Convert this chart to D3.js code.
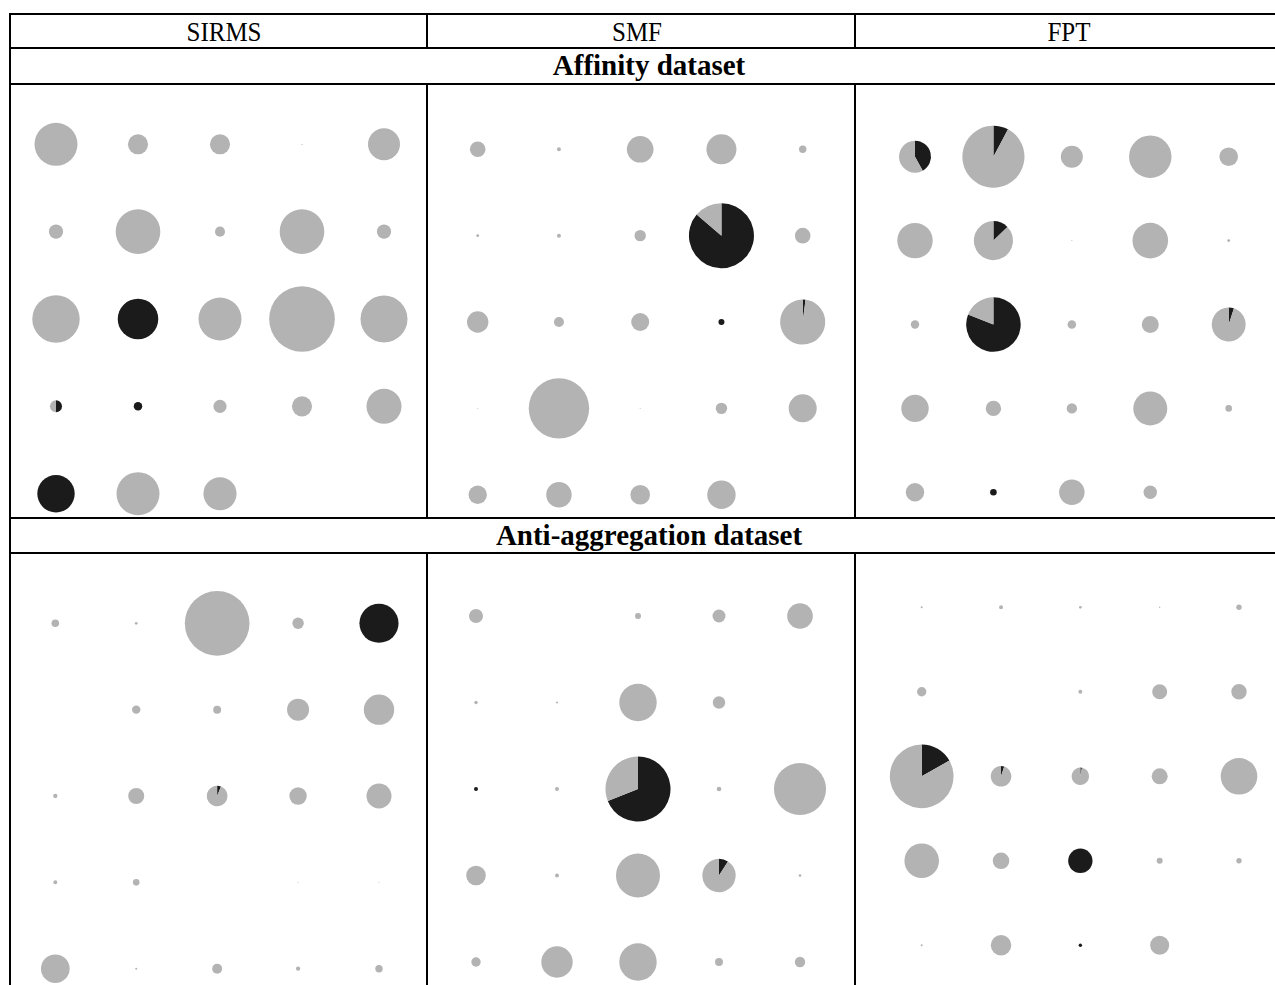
<!DOCTYPE html>
<html>
<head>
<meta charset="utf-8">
<script src="https://cdn.jsdelivr.net/npm/d3@7"></script>
<style>
  html, body { margin: 0; padding: 0; background: #fff; }
  svg { display: block; }
</style>
</head>
<body>
<svg id="chart" width="1275" height="985"></svg>
<script>
// ---------------- DATA ----------------
const columns = ["SIRMS", "SMF", "FPT"];
const datasets = ["Affinity dataset", "Anti-aggregation dataset"];

// Node sizes (number of compounds per SOM node, 5x5 grid, row-major) and share of actives (black)
const affSirmsSize   = [12.8, 2.8, 2.8, 0.01, 7.1,  1.4, 13.8, 0.7, 13.8, 1.4,  15.6, 11.4, 12.8, 29.9, 15.3,  1.0, 0.5, 1.2, 2.8, 8.5,  9.7, 12.8, 7.6, 0, 0];
const affSirmsActive = [0, 0, 0, 0, 0,  0, 0, 0, 0, 0,  0, 1, 0, 0, 0,  0.5, 1, 0, 0, 0,  1, 0, 0, 0, 0];

const affSmfSize   = [1.69, 0.11, 4.91, 6.25, 0.38,  0.06, 0.11, 0.9, 29.3, 1.69,  3.18, 0.69, 2.25, 0.25, 14.06,  0.007, 25.3, 0.007, 0.9, 5.44,  2.35, 4.48, 2.67, 5.6, 0];
const affSmfActive = [0, 0, 0, 0, 0,  0, 0, 0, 0.862, 0,  0, 0, 0, 1, 0.02,  0, 0, 0, 0, 0,  0, 0, 0, 0, 0];

const affFptSize   = [7.1, 26.7, 3.36, 12.5, 2.4,  8.7, 10.6, 0.007, 8.8, 0.06,  0.49, 20.6, 0.51, 2.0, 8.0,  5.2, 1.65, 0.75, 8.0, 0.3,  2.35, 0.3, 4.48, 1.25, 0];
const affFptActive = [0.42, 0.078, 0, 0, 0,  0, 0.127, 0, 0, 0,  0, 0.81, 0, 0, 0.05,  0, 0, 0, 0, 0,  0, 1, 0, 0, 0];

const antiSirmsSize   = [0.4, 0.05, 29.0, 0.9, 10.6,  0, 0.49, 0.44, 3.36, 6.4,  0.13, 1.78, 2.95, 2.1, 4.34,  0.11, 0.3, 0, 0.007, 0.007,  5.68, 0.028, 0.69, 0.13, 0.38];
const antiSirmsActive = [0, 0, 0, 0, 1,  0, 0, 0, 0, 0,  0, 0, 0.06, 0, 0,  0, 0, 0, 0, 0,  0, 0, 0, 0, 0];

const antiSmfSize   = [1.36, 0, 0.25, 1.17, 4.55,  0.08, 0.028, 9.7, 1.07, 0,  0.11, 0.11, 29.3, 0.15, 18.8,  2.67, 0.11, 13.4, 7.75, 0.05,  0.61, 6.85, 9.7, 0.44, 0.75];
const antiSmfActive = [0, 0, 0, 0, 0,  0, 0, 0, 0, 0,  1, 0, 0.69, 0, 0,  0, 0, 0, 0.09, 0,  0, 0, 0, 0, 0];

const antiFptSize   = [0.028, 0.11, 0.05, 0.014, 0.2,  0.61, 0, 0.11, 1.56, 1.65,  28.1, 2.95, 2.1, 1.78, 9.3,  8.3, 1.9, 4.13, 0.25, 0.2,  0.028, 2.9, 0.08, 2.5, 0];
const antiFptActive = [0, 0, 0, 0, 0,  0, 0, 0, 0, 0,  0.168, 0.05, 0.03, 0, 0,  0, 0, 1, 0, 0,  0, 0, 1, 0, 0];

// ---------------- LAYOUT ----------------
const W = 1275, H = 985;
const svg = d3.select("#chart");
svg.append("rect").attr("width", W).attr("height", H).attr("fill", "#fff");

const GREY = "#b3b3b3", BLACK = "#1b1b1b";
const rScale = d3.scaleSqrt().domain([0, 30]).range([0, 32.9]);
const idx = d3.range(5);

const panels = [
  {size: affSirmsSize,  active: affSirmsActive,  x: [56, 384],     y: [144.3, 493.7]},
  {size: affSmfSize,    active: affSmfActive,    x: [477.7, 802.7],y: [149.3, 494.7]},
  {size: affFptSize,    active: affFptActive,    x: [915, 1228.7], y: [156.7, 492.3]},
  {size: antiSirmsSize, active: antiSirmsActive, x: [55.3, 379],   y: [623.3, 968.7]},
  {size: antiSmfSize,   active: antiSmfActive,   x: [476, 800],    y: [616, 962]},
  {size: antiFptSize,   active: antiFptActive,   x: [921.7, 1239], y: [607.3, 945.3]}
];

const pie = d3.pie().sort(null).value(d => d);
const arc = d3.arc().innerRadius(0);

panels.forEach(p => {
  const xs = d3.scalePoint().domain(idx).range(p.x);
  const ys = d3.scalePoint().domain(idx).range(p.y);
  const g = svg.append("g");
  p.size.forEach((s, i) => {
    if (!(s > 0)) return;
    const r = rScale(s);
    const a = p.active[i];
    const node = g.append("g")
      .attr("transform", `translate(${xs(i % 5)},${ys(Math.floor(i / 5))})`);
    node.selectAll("path")
      .data(pie([a, 1 - a]))
      .join("path")
      .attr("d", d => arc.outerRadius(r)(d))
      .attr("fill", (d, k) => k === 0 ? BLACK : GREY);
  });
});

// ---------------- TABLE GRID ----------------
const lines = svg.append("g").attr("stroke", "#000").attr("stroke-width", 2);
const hLines = [14, 48, 84, 518, 553];
hLines.forEach(y => lines.append("line").attr("x1", 10).attr("x2", W).attr("y1", y).attr("y2", y));
lines.append("line").attr("x1", 10).attr("x2", 10).attr("y1", 13).attr("y2", H);
[427, 855].forEach(x => {
  [[13, 48], [84, 518], [553, H]].forEach(([a, b]) =>
    lines.append("line").attr("x1", x).attr("x2", x).attr("y1", a).attr("y2", b));
});

// ---------------- TEXT ----------------
const colCenters = [224, 637, 1069];
svg.append("g").selectAll("text").data(columns).join("text")
  .attr("transform", (d, i) => `translate(${colCenters[i]},41) scale(1,1.08)`)
  .attr("text-anchor", "middle")
  .attr("font-family", "'Liberation Serif', 'Times New Roman', serif")
  .attr("font-size", 25)
  .attr("fill", "#000")
  .text(d => d);

const dsY = [75, 545];
svg.append("g").selectAll("text").data(datasets).join("text")
  .attr("transform", (d, i) => `translate(649,${dsY[i]}) scale(1,1.05)`)
  .attr("text-anchor", "middle")
  .attr("font-family", "'Liberation Serif', 'Times New Roman', serif")
  .attr("font-weight", "bold")
  .attr("font-size", 29)
  .attr("fill", "#000")
  .text(d => d);
</script>
</body>
</html>
